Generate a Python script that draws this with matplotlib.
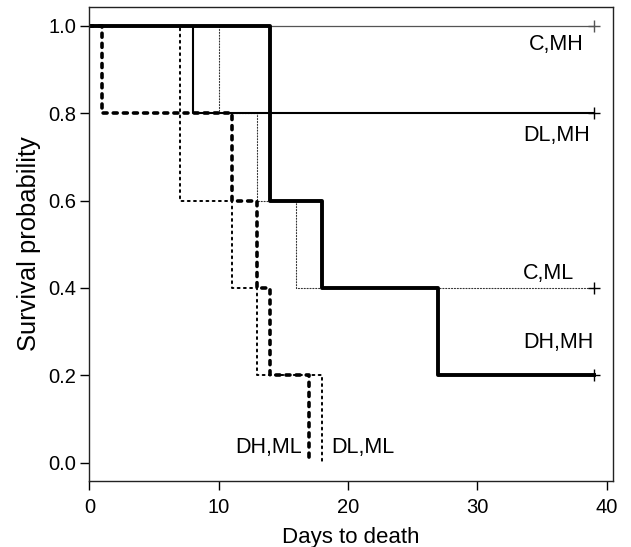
import matplotlib

matplotlib.use("Agg")
import matplotlib.pyplot as plt

plt.rcParams["font.family"] = ["Liberation Sans", "DejaVu Sans"]

# Kaplan-Meier steps (days, survival after each event)
c_mh_days = [0, 39]
c_mh_surv = [1.0, 1.0]
dl_mh_days = [0, 8, 39]
dl_mh_surv = [1.0, 0.8, 0.8]
dh_mh_days = [0, 14, 18, 27, 39]
dh_mh_surv = [1.0, 0.6, 0.4, 0.2, 0.2]
c_ml_days = [0, 10, 13, 16, 39]
c_ml_surv = [1.0, 0.8, 0.6, 0.4, 0.4]
dl_ml_days = [0, 7, 11, 13, 18]
dl_ml_surv = [1.0, 0.6, 0.4, 0.2, 0.0]
dh_ml_days = [0, 1, 11, 13, 14, 17]
dh_ml_surv = [1.0, 0.8, 0.6, 0.4, 0.2, 0.0]

censored_groups = ["C,MH", "DL,MH", "C,ML", "DH,MH"]

styles = {
    "C,MH": dict(color="#555555", lw=0.9, ls="-"),
    "DL,MH": dict(color="black", lw=1.5, ls="-"),
    "DH,MH": dict(color="black", lw=2.8, ls="-"),
    "C,ML": dict(color="#333333", lw=0.8, ls=(0, (1, 1.6))),
    "DL,ML": dict(color="black", lw=1.4, ls=(0, (1, 2.2))),
    "DH,ML": dict(color="black", lw=2.6, ls=(0, (1.1, 1.7))),
}

curves = {
    "C,MH": (c_mh_days, c_mh_surv),
    "DL,MH": (dl_mh_days, dl_mh_surv),
    "DH,MH": (dh_mh_days, dh_mh_surv),
    "C,ML": (c_ml_days, c_ml_surv),
    "DL,ML": (dl_ml_days, dl_ml_surv),
    "DH,ML": (dh_ml_days, dh_ml_surv),
}

# label anchors (x, y, ha)
label_pos = {
    "C,MH": (38.2, 0.9565, "right"),
    "DL,MH": (38.7, 0.75, "right"),
    "C,ML": (37.5, 0.434, "right"),
    "DH,MH": (39.0, 0.274, "right"),
    "DH,ML": (16.45, 0.034, "right"),
    "DL,ML": (18.7, 0.034, "left"),
}

fig = plt.figure(figsize=(6.31, 5.47), dpi=100)
ax = fig.add_axes([0.1417, 0.1207, 0.8298, 0.8665])

draw_order = ["DL,ML", "C,ML", "DH,ML", "C,MH", "DL,MH", "DH,MH"]
for name in draw_order:
    days, surv = curves[name]
    st = styles[name]
    ax.step(days, surv, where="post", color=st["color"], lw=st["lw"],
            linestyle=st["ls"], dash_capstyle="round")
    if name in censored_groups:
        ax.plot(days[-1], surv[-1], marker="+", color=st["color"] if name != "C,ML" else "black",
                markersize=9, mew=1.0)

for name, (x, y, ha) in label_pos.items():
    ax.text(x, y, name, ha=ha, va="center", fontsize=15.5)

ax.set_xlim(0, 40.5)
ax.set_ylim(-0.042, 1.0435)
ax.set_xticks([0, 10, 20, 30, 40])
ax.set_yticks([0.0, 0.2, 0.4, 0.6, 0.8, 1.0])
ax.set_yticklabels(["0.0", "0.2", "0.4", "0.6", "0.8", "1.0"])
ax.tick_params(direction="out", length=6.5, width=1, labelsize=14.5)
ax.tick_params(axis="x", pad=6)
ax.tick_params(axis="y", pad=3)
for sp in ax.spines.values():
    sp.set_linewidth(1.0)
    sp.set_color("#222222")

ax.set_xlabel("Days to death", fontsize=16, labelpad=7)
ax.set_ylabel("Survival probability", fontsize=18.4, labelpad=5)

fig.savefig("out.png", dpi=100)
